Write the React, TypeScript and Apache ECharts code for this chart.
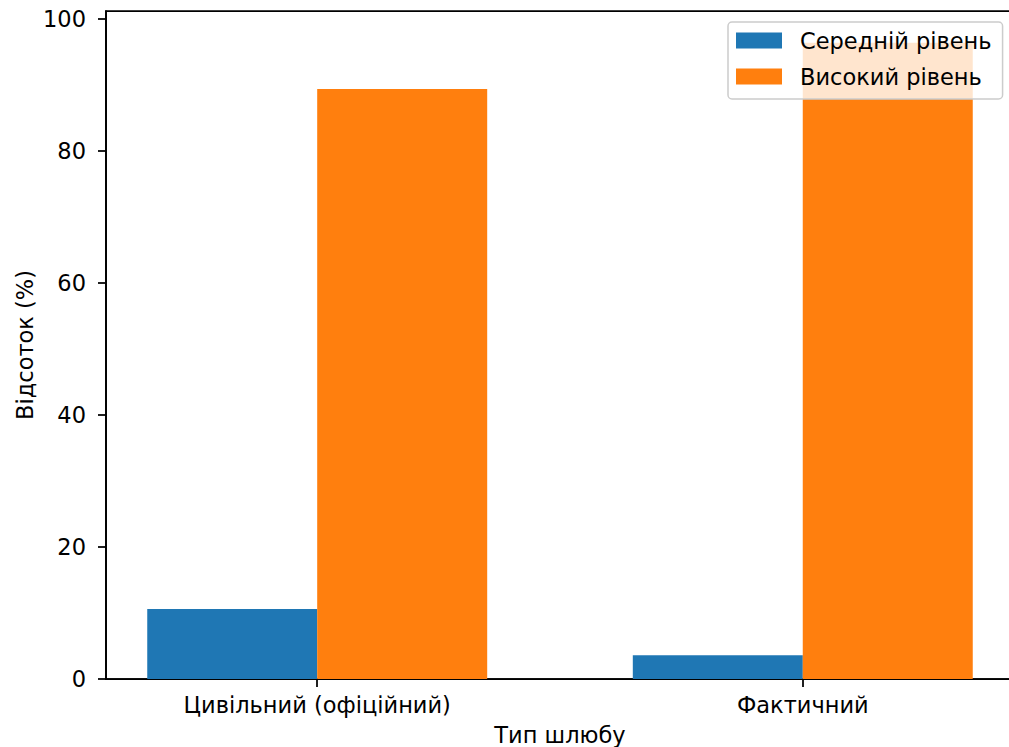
import React, { useEffect, useRef } from "react";
import * as echarts from "echarts";

const categories = ["Цивільний (офіційний)", "Фактичний"];
const seriesNames = ["Середній рівень", "Високий рівень"];
const mediumValues = [10.6, 3.6];
const highValues = [89.4, 96.4];
const yTicks = [0, 20, 40, 60, 80, 100];
const xTicks = [0, 1];

export default function App() {
  const ref = useRef<HTMLDivElement>(null);
  useEffect(() => {
    document.body.style.margin = "0";
    const chart = echarts.init(ref.current!, null, { renderer: "svg" });
    const font = "DejaVu Sans";
    const fs = 22.5;
    const barOffset = 0.175;
    const axisLineStyle = { color: "#000", width: 1.75 };
    chart.setOption({
      animation: false,
      textStyle: { fontFamily: font },
      grid: {
        left: 106,
        right: 0,
        top: 11,
        bottom: 68,
        show: true,
        borderColor: "#000",
        borderWidth: 1.75,
        containLabel: false,
        outerBoundsMode: "none",
      },
      legend: {
        orient: "vertical",
        left: 728,
        top: 22,
        padding: [7, 11, 11, 8],
        itemWidth: 46,
        itemHeight: 16,
        itemGap: 13,
        icon: "rect",
        backgroundColor: "rgba(255,255,255,0.8)",
        borderColor: "#cccccc",
        borderWidth: 1.5,
        borderRadius: 4,
        textStyle: { fontFamily: font, fontSize: fs, color: "#000", padding: [0, 0, 0, 13] },
        data: seriesNames,
      },
      xAxis: {
        type: "value",
        min: -0.435,
        max: 1.435,
        name: "Тип шлюбу",
        nameLocation: "middle",
        nameGap: 44,
        nameMoveOverlap: false,
        nameTextStyle: { fontFamily: font, fontSize: fs, color: "#000" },
        axisLine: { show: true, onZero: false, lineStyle: axisLineStyle },
        axisTick: { show: true, customValues: xTicks, length: 8, lineStyle: axisLineStyle },
        axisLabel: {
          customValues: xTicks,
          formatter: (v: number) => categories[Math.round(v)] ?? "",
          fontFamily: font,
          fontSize: fs,
          color: "#000",
          margin: 14,
        },
        splitLine: { show: false },
      },
      yAxis: {
        type: "value",
        min: 0,
        max: 101.2,
        name: "Відсоток (%)",
        nameLocation: "middle",
        nameRotate: 90,
        nameGap: 70,
        nameMoveOverlap: false,
        nameTextStyle: { fontFamily: font, fontSize: fs, color: "#000" },
        axisLine: { show: true, onZero: false, lineStyle: axisLineStyle },
        axisTick: { show: true, customValues: yTicks, length: 8, lineStyle: axisLineStyle },
        axisLabel: {
          customValues: yTicks,
          fontFamily: font,
          fontSize: fs,
          color: "#000",
          margin: 20,
        },
        splitLine: { show: false },
      },
      series: [
        {
          type: "bar",
          name: seriesNames[0],
          data: mediumValues.map((v, i) => [i - barOffset, v]),
          barWidth: 170,
          barGap: "-100%",
          itemStyle: { color: "#1f77b4" },
        },
        {
          type: "bar",
          name: seriesNames[1],
          data: highValues.map((v, i) => [i + barOffset, v]),
          barWidth: 170,
          barGap: "-100%",
          itemStyle: { color: "#ff7f0e" },
        },
      ],
    });
    return () => chart.dispose();
  }, []);
  return (
    <div style={{ width: 1009, height: 747, overflow: "hidden" }}>
      <div ref={ref} style={{ width: 1014, height: 747 }} />
    </div>
  );
}
